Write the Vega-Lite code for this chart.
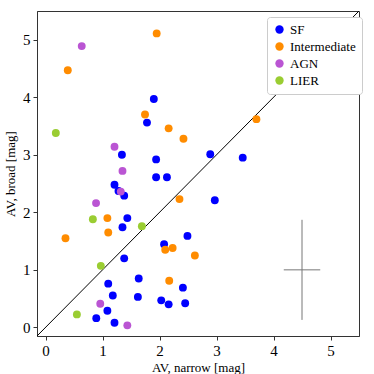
{
  "$schema": "https://vega.github.io/schema/vega-lite/v6.json",
  "width": 322,
  "height": 325,
  "autosize": "none",
  "padding": {"left": 37, "top": 11, "right": 15, "bottom": 38},
  "background": "white",
  "config": {
    "view": {"stroke": "#333", "strokeWidth": 1},
    "axis": {
      "grid": false,
      "domainColor": "#333",
      "tickColor": "#333",
      "tickSize": 4,
      "labelFont": "Liberation Serif, Times New Roman, serif",
      "labelFontSize": 15,
      "labelColor": "black",
      "labelPadding": 3,
      "titleFont": "Liberation Serif, Times New Roman, serif",
      "titleFontSize": 13,
      "titleFontWeight": "normal",
      "titleColor": "black"
    }
  },
  "datasets": {
    "pts": [
      {"g": "SF", "xn": 1.90, "yb": 3.97},
      {"g": "SF", "xn": 1.78, "yb": 3.56},
      {"g": "SF", "xn": 1.34, "yb": 3.00},
      {"g": "SF", "xn": 1.94, "yb": 2.92},
      {"g": "SF", "xn": 1.94, "yb": 2.61},
      {"g": "SF", "xn": 2.13, "yb": 2.61},
      {"g": "SF", "xn": 1.21, "yb": 2.48},
      {"g": "SF", "xn": 1.28, "yb": 2.37},
      {"g": "SF", "xn": 1.38, "yb": 2.29},
      {"g": "SF", "xn": 2.89, "yb": 3.01},
      {"g": "SF", "xn": 3.46, "yb": 2.95},
      {"g": "SF", "xn": 1.435, "yb": 1.90},
      {"g": "SF", "xn": 1.35, "yb": 1.74},
      {"g": "SF", "xn": 2.49, "yb": 1.59},
      {"g": "SF", "xn": 2.08, "yb": 1.445},
      {"g": "SF", "xn": 1.38, "yb": 1.20},
      {"g": "SF", "xn": 1.635, "yb": 0.85},
      {"g": "SF", "xn": 1.10, "yb": 0.76},
      {"g": "SF", "xn": 2.41, "yb": 0.69},
      {"g": "SF", "xn": 1.18, "yb": 0.555},
      {"g": "SF", "xn": 1.62, "yb": 0.53},
      {"g": "SF", "xn": 2.03, "yb": 0.47},
      {"g": "SF", "xn": 2.16, "yb": 0.40},
      {"g": "SF", "xn": 2.45, "yb": 0.42},
      {"g": "SF", "xn": 1.085, "yb": 0.29},
      {"g": "SF", "xn": 0.89, "yb": 0.16},
      {"g": "SF", "xn": 1.21, "yb": 0.08},
      {"g": "SF", "xn": 2.97, "yb": 2.21},
      {"g": "Intermediate", "xn": 0.39, "yb": 4.47},
      {"g": "Intermediate", "xn": 1.95, "yb": 5.11},
      {"g": "Intermediate", "xn": 1.745, "yb": 3.70},
      {"g": "Intermediate", "xn": 2.16, "yb": 3.46},
      {"g": "Intermediate", "xn": 2.42, "yb": 3.28},
      {"g": "Intermediate", "xn": 3.70, "yb": 3.62},
      {"g": "Intermediate", "xn": 2.35, "yb": 2.23},
      {"g": "Intermediate", "xn": 1.085, "yb": 1.90},
      {"g": "Intermediate", "xn": 1.10, "yb": 1.65},
      {"g": "Intermediate", "xn": 0.35, "yb": 1.55},
      {"g": "Intermediate", "xn": 2.10, "yb": 1.35},
      {"g": "Intermediate", "xn": 2.23, "yb": 1.38},
      {"g": "Intermediate", "xn": 2.17, "yb": 0.81},
      {"g": "Intermediate", "xn": 2.62, "yb": 1.25},
      {"g": "AGN", "xn": 0.635, "yb": 4.89},
      {"g": "AGN", "xn": 1.21, "yb": 3.14},
      {"g": "AGN", "xn": 1.35, "yb": 2.72},
      {"g": "AGN", "xn": 1.32, "yb": 2.36},
      {"g": "AGN", "xn": 0.886, "yb": 2.16},
      {"g": "AGN", "xn": 0.96, "yb": 0.41},
      {"g": "AGN", "xn": 1.435, "yb": 0.035},
      {"g": "LIER", "xn": 0.18, "yb": 3.38},
      {"g": "LIER", "xn": 0.83, "yb": 1.88},
      {"g": "LIER", "xn": 1.69, "yb": 1.76},
      {"g": "LIER", "xn": 0.97, "yb": 1.07},
      {"g": "LIER", "xn": 0.55, "yb": 0.225}
    ],
    "diag": [
      {"xn": -0.15, "yb": -0.15},
      {"xn": 5.5, "yb": 5.5}
    ],
    "err": [
      {"xn": 4.5, "yb": 1.0, "xlo": 4.18, "xhi": 4.82, "ylo": 0.13, "yhi": 1.87}
    ]
  },
  "layer": [
    {
      "data": {"name": "diag"},
      "mark": {"type": "line", "color": "black", "strokeWidth": 1, "clip": true},
      "encoding": {
        "x": {"field": "xn", "type": "quantitative"},
        "y": {"field": "yb", "type": "quantitative"}
      }
    },
    {
      "data": {"name": "err"},
      "mark": {"type": "rule", "color": "#777", "strokeWidth": 1},
      "encoding": {
        "x": {"field": "xn", "type": "quantitative"},
        "y": {"field": "ylo", "type": "quantitative"},
        "y2": {"field": "yhi"}
      }
    },
    {
      "data": {"name": "err"},
      "mark": {"type": "rule", "color": "#777", "strokeWidth": 1},
      "encoding": {
        "x": {"field": "xlo", "type": "quantitative"},
        "x2": {"field": "xhi"},
        "y": {"field": "yb", "type": "quantitative"}
      }
    },
    {
      "data": {"name": "pts"},
      "mark": {"type": "point", "filled": true, "opacity": 1, "size": 62, "shape": "circle"},
      "encoding": {
        "x": {
          "field": "xn", "type": "quantitative",
          "scale": {"domain": [-0.15, 5.5], "nice": false, "zero": false},
          "axis": {"values": [0, 1, 2, 3, 4, 5], "format": "d", "title": "AV, narrow [mag]", "titlePadding": 3}
        },
        "y": {
          "field": "yb", "type": "quantitative",
          "scale": {"domain": [-0.15, 5.5], "nice": false, "zero": false},
          "axis": {"values": [0, 1, 2, 3, 4, 5], "format": "d", "title": "AV, broad [mag]", "titlePadding": 5}
        },
        "color": {
          "field": "g", "type": "nominal",
          "scale": {
            "domain": ["SF", "Intermediate", "AGN", "LIER"],
            "range": ["#0000ff", "#ff8c00", "#ba55d3", "#9acd32"]
          },
          "legend": {
            "title": null,
            "orient": "none",
            "legendX": 230,
            "legendY": 6,
            "symbolType": "circle",
            "symbolSize": 70,
            "symbolStrokeWidth": 0,
            "symbolOpacity": 1,
            "labelFont": "Liberation Serif, Times New Roman, serif",
            "labelFontSize": 13,
            "labelColor": "black",
            "rowPadding": 3,
            "padding": 6,
            "strokeColor": "#ccc",
            "fillColor": "white",
            "cornerRadius": 3
          }
        }
      }
    }
  ]
}
